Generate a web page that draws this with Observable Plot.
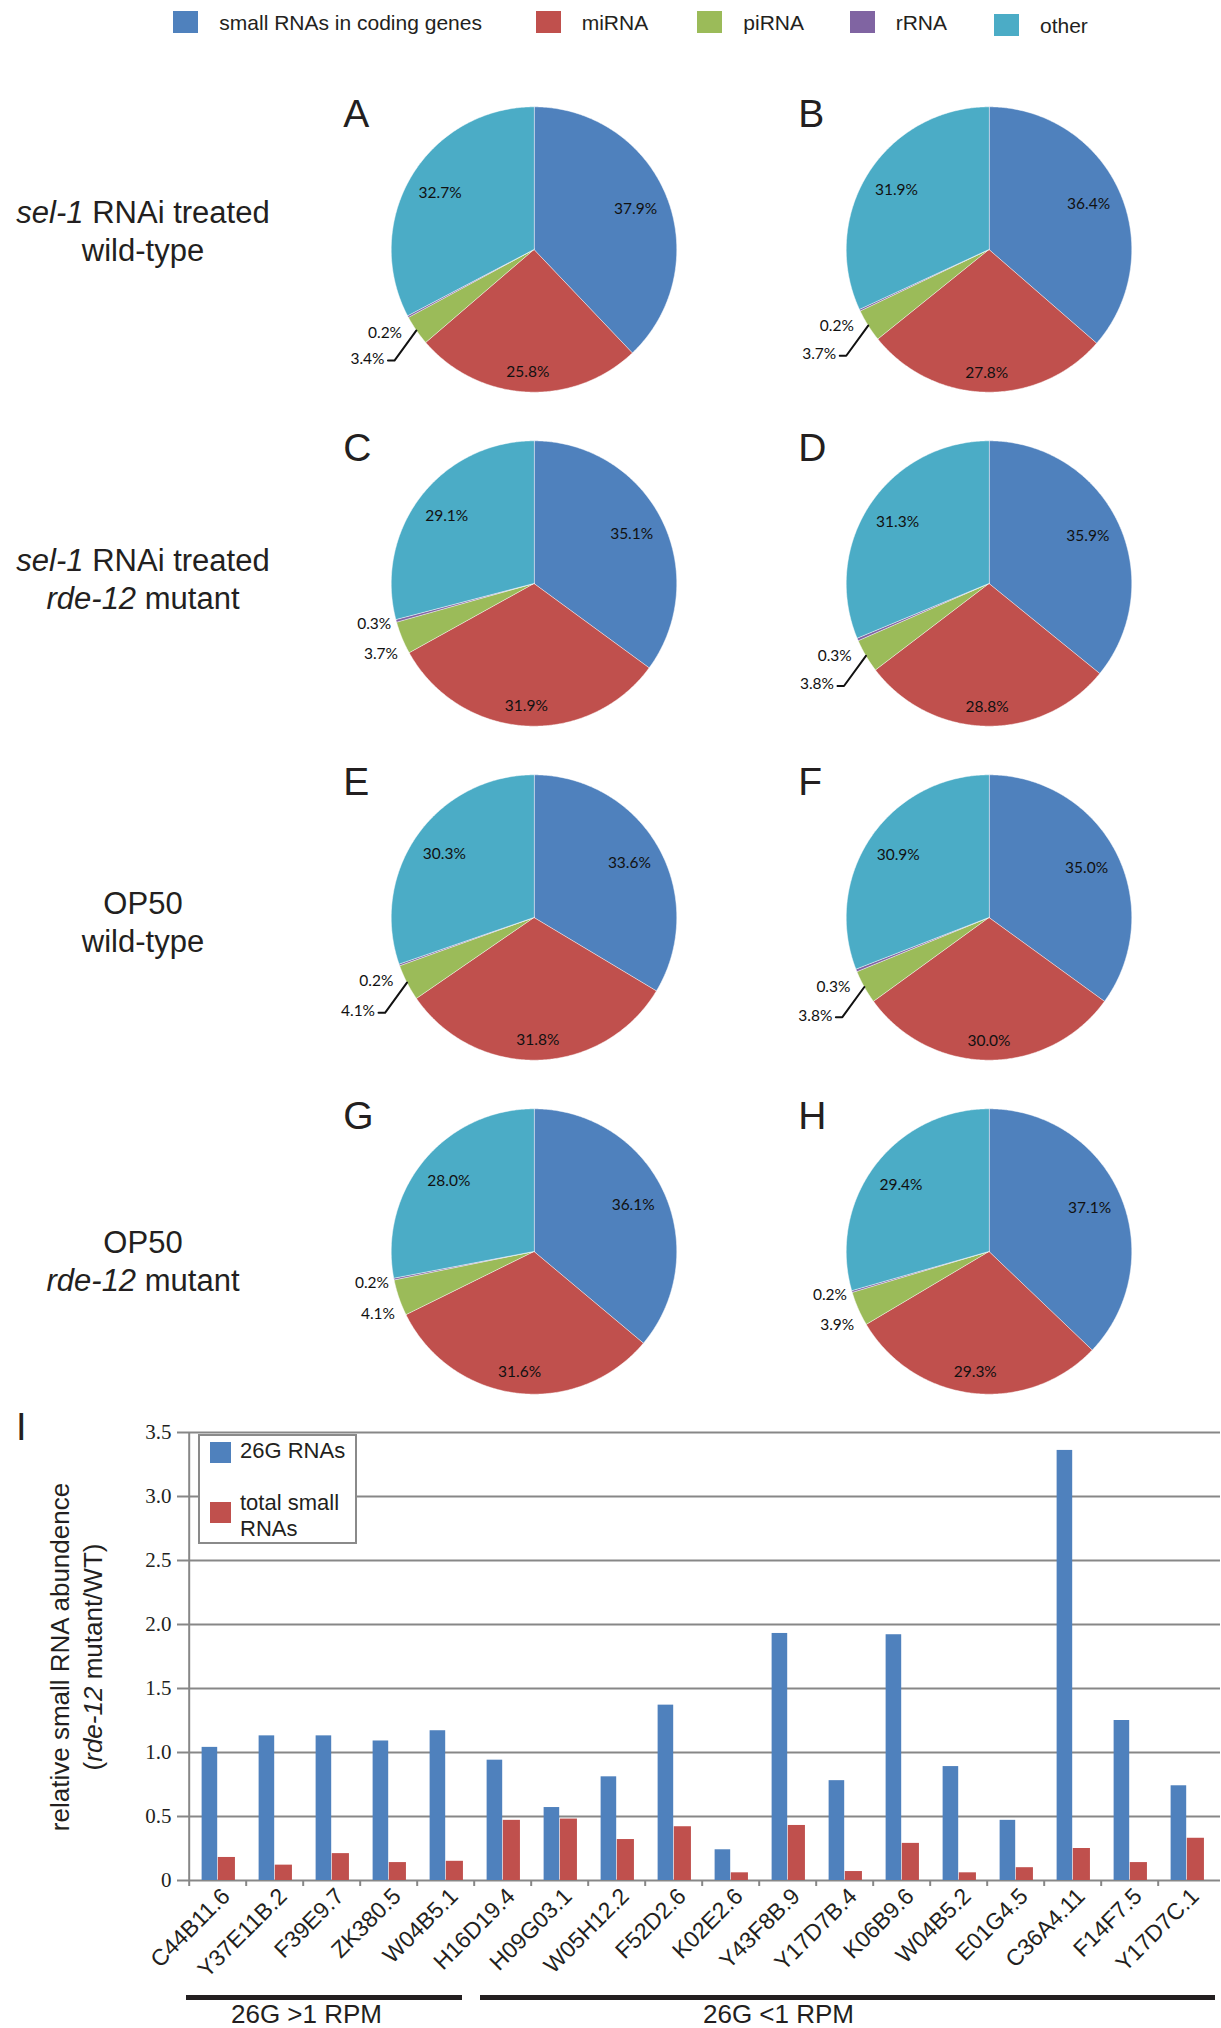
<!DOCTYPE html>
<html>
<head>
<meta charset="utf-8">
<script src="https://cdn.jsdelivr.net/npm/d3@7"></script>
<script src="https://cdn.jsdelivr.net/npm/@observablehq/plot@0.6"></script>
<style>
html, body { margin: 0; padding: 0; background: #fff; overflow: hidden; }
#fig { position: relative; width: 1221px; height: 2028px; background: #fff; overflow: hidden;
       font-family: "Liberation Sans", Arial, sans-serif; color: #231f20; }
#fig svg { position: absolute; left: 0; }
</style>
</head>
<body>
<div id="fig"></div>
<script>
// ---------------- DATA ----------------
const categories = ["small RNAs in coding genes", "miRNA", "piRNA", "rRNA", "other"];
const categoryColors = ["#4F81BD", "#C0504D", "#9BBB59", "#8064A2", "#4BACC6"];

const panels = ["A", "B", "C", "D", "E", "F", "G", "H"];
const coding = [37.9, 36.4, 35.1, 35.9, 33.6, 35.0, 36.1, 37.1];
const miRNA  = [25.8, 27.8, 31.9, 28.8, 31.8, 30.0, 31.6, 29.3];
const piRNA  = [3.4, 3.7, 3.7, 3.8, 4.1, 3.8, 4.1, 3.9];
const rRNA   = [0.2, 0.2, 0.3, 0.3, 0.2, 0.3, 0.2, 0.2];
const other  = [32.7, 31.9, 29.1, 31.3, 30.3, 30.9, 28.0, 29.4];
const leaderLine = [true, true, false, true, true, true, false, false];

const rowLine1 = ["<i>sel-1</i> RNAi treated", "<i>sel-1</i> RNAi treated", "OP50", "OP50"];
const rowLine2 = ["wild-type", "<i>rde-12</i> mutant", "wild-type", "<i>rde-12</i> mutant"];

const genes = ["C44B11.6", "Y37E11B.2", "F39E9.7", "ZK380.5", "W04B5.1", "H16D19.4", "H09G03.1",
  "W05H12.2", "F52D2.6", "K02E2.6", "Y43F8B.9", "Y17D7B.4", "K06B9.6", "W04B5.2", "E01G4.5",
  "C36A4.11", "F14F7.5", "Y17D7C.1"];
const rna26G     = [1.04, 1.13, 1.13, 1.09, 1.17, 0.94, 0.57, 0.81, 1.37, 0.24, 1.93, 0.78, 1.92, 0.89, 0.47, 3.36, 1.25, 0.74];
const totalSmall = [0.18, 0.12, 0.21, 0.14, 0.15, 0.47, 0.48, 0.32, 0.42, 0.06, 0.43, 0.07, 0.29, 0.06, 0.10, 0.25, 0.14, 0.33];
const yTicks = [0, 0.5, 1.0, 1.5, 2.0, 2.5, 3.0, 3.5];
const barSeries = ["26G RNAs", "total small RNAs"];
const barColors = ["#4F81BD", "#C0504D"];

const groupLabels = ["26G >1 RPM", "26G <1 RPM"];
const groupFrom = ["C44B11.6", "H16D19.4"];
const groupTo = ["W04B5.1", "Y17D7C.1"];

// ---------------- HELPERS ----------------
const fig = document.getElementById("fig");
function textAt(html, x, baseline, fs, opts = {}) {
  const lh = opts.lineHeight || fs;
  const el = document.createElement("div");
  el.innerHTML = html;
  const top = baseline - ((lh - 1.117 * fs) / 2 + 0.905 * fs);
  Object.assign(el.style, {position: "absolute", top: top + "px", fontSize: fs + "px",
    lineHeight: lh + "px", whiteSpace: "nowrap"});
  if (opts.center != null) {
    el.style.left = (opts.center - opts.width / 2) + "px";
    el.style.width = opts.width + "px";
    el.style.textAlign = "center";
  } else el.style.left = x + "px";
  fig.appendChild(el);
  return el;
}
function box(x, y, w, h, css) {
  const el = document.createElement("div");
  Object.assign(el.style, {position: "absolute", left: x + "px", top: y + "px", width: w + "px", height: h + "px"}, css);
  fig.appendChild(el);
  return el;
}

// ---------------- PIES ----------------
const R = 143;                 // pie radius in px
const colW = 455.7, rowH = 334.7;
const pieLeft = 533.3 - colW / 2, pieTop = 248 - rowH / 2;
const xHalf = colW / 2 / R, yHalf = rowH / 2 / R;

const slicePts = [], bigLabels = [], smallLabels = [], leaders = [], letters = [];
panels.forEach((p, i) => {
  const vals = [coding[i], miRNA[i], piRNA[i], rRNA[i], other[i]];
  const total = d3.sum(vals);
  const col = i % 2, row = Math.floor(i / 2);
  let acc = 0;
  vals.forEach((v, k) => {
    const a0 = acc / total * 2 * Math.PI; acc += v; const a1 = acc / total * 2 * Math.PI;
    const n = Math.max(2, Math.ceil((a1 - a0) / (Math.PI / 360)));
    const cat = categories[k];
    slicePts.push({col, row, cat, x: 0, y: 0});
    for (let j = 0; j <= n; j++) {
      const a = a0 + (a1 - a0) * j / n;
      slicePts.push({col, row, cat, x: Math.sin(a), y: Math.cos(a)});
    }
    const am = (a0 + a1) / 2, s = Math.sin(am), c = Math.cos(am);
    const text = v.toFixed(1) + "%";
    if (k === 0 || k === 1 || k === 4) {
      const d = 1 - (11 + Math.abs(s) * 21 + Math.abs(c) * 8) / R;
      bigLabels.push({col, row, text, x: d * s, y: d * c});
    } else {
      const lead = leaderLine[i];
      const off = k === 2 ? (lead ? [-32, 28.7] : [-4, 16]) : (lead ? [-6, 16.3] : [-5, 3.5]);
      const lx = s + off[0] / R, ly = c - off[1] / R;
      smallLabels.push({col, row, text, x: lx, y: ly});
      if (k === 2 && lead) {
        leaders.push({col, row, id: p, x: lx + 3.5 / R, y: ly - 1.5 / R},
                     {col, row, id: p, x: lx + 10 / R, y: ly - 1.5 / R},
                     {col, row, id: p, x: s, y: c});
      }
    }
  });
  letters.push({col, row, text: p, x: -191 / R, y: 123 / R});
});

const piePlot = Plot.plot({
  width: 1221,
  height: pieTop + 4 * rowH,
  marginLeft: pieLeft, marginRight: 1221 - pieLeft - 2 * colW,
  marginTop: pieTop, marginBottom: 0,
  style: {background: "transparent", color: "#231f20", fontFamily: "Liberation Sans, Arial, sans-serif"},
  fx: {domain: [0, 1], padding: 0, axis: null},
  fy: {domain: [0, 1, 2, 3], padding: 0, axis: null},
  x: {domain: [-xHalf, xHalf], axis: null},
  y: {domain: [-yHalf, yHalf], axis: null},
  color: {domain: categories, range: categoryColors},
  marks: [
    Plot.line(slicePts, {fx: "col", fy: "row", x: "x", y: "y", z: "cat", fill: "cat",
      stroke: "#ffffff", strokeWidth: 0.5, curve: "linear-closed"}),
    Plot.text(bigLabels, {fx: "col", fy: "row", x: "x", y: "y", text: "text",
      fontSize: 15.5, fontFamily: "Lato, 'Open Sans', sans-serif", fill: "#111"}),
    Plot.text(smallLabels, {fx: "col", fy: "row", x: "x", y: "y", text: "text", textAnchor: "end",
      fontSize: 15.5, fontFamily: "Lato, 'Open Sans', sans-serif", fill: "#111"}),
    Plot.line(leaders, {fx: "col", fy: "row", x: "x", y: "y", z: "id", stroke: "#111", strokeWidth: 2}),
    Plot.text(letters, {fx: "col", fy: "row", x: "x", y: "y", text: "text", textAnchor: "start",
      lineAnchor: "bottom", fontSize: 39, fill: "#231f20"})
  ]
});
piePlot.style.top = "0px";
fig.appendChild(piePlot);

// ---------------- BAR CHART ----------------
const barTop = 1400;
const bMarginLeft = 183, bMarginRight = 1, bMarginTop = 32, bMarginBottom = 148, bHeight = 628;
const bw = (1221 - bMarginLeft - bMarginRight) / genes.length;
const barRows = genes.map((g, i) => ({gene: g, v26G: rna26G[i], vTotal: totalSmall[i]}));
const groups = groupLabels.map((l, i) => ({label: l, from: groupFrom[i], to: groupTo[i]}));

const barPlot = Plot.plot({
  width: 1221, height: bHeight,
  marginLeft: bMarginLeft, marginRight: bMarginRight, marginTop: bMarginTop, marginBottom: bMarginBottom,
  style: {background: "transparent", color: "#231f20", fontFamily: "Liberation Sans, Arial, sans-serif"},
  x: {domain: genes, padding: 0, axis: null},
  y: {domain: [0, 3.5], axis: null},
  marks: [
    Plot.gridY(yTicks, {stroke: "#878787", strokeOpacity: 1, strokeWidth: 2}),
    Plot.ruleX([genes[0]], {x: d => d, dx: -bw / 2, y1: 0, y2: 3.5, stroke: "#878787", strokeWidth: 2}),
    Plot.ruleX(genes, {x: d => d, dx: -bw / 2, y1: 0, y2: 0, insetBottom: -6, stroke: "#878787", strokeWidth: 2}),
    Plot.barY(barRows, {x: "gene", y: "v26G", fill: barColors[0], insetLeft: 0.219 * bw, insetRight: 0.5 * bw}),
    Plot.barY(barRows, {x: "gene", y: "vTotal", fill: barColors[1], insetLeft: 0.5 * bw, insetRight: 0.192 * bw}),
    Plot.axisY(yTicks, {tickSize: 6, tickPadding: 6, stroke: "#878787", strokeWidth: 2, label: null,
      tickFormat: d => d === 0 ? "0" : d.toFixed(1), fontSize: 21, fontFamily: "Liberation Serif, 'Times New Roman', serif"}),
    Plot.text(barRows, {x: "gene", y: 0, text: "gene", rotate: -45, textAnchor: "end", dx: 8, dy: 12,
      fontSize: 23, fill: "#231f20"}),
    Plot.ruleY(groups.slice(0, 1), {x1: "from", x2: "to", y: 0, dy: 117, insetLeft: -3, insetRight: 12,
      stroke: "#231f20", strokeWidth: 5}),
    Plot.ruleY(groups.slice(1, 2), {x1: "from", x2: "to", y: 0, dy: 117, insetLeft: 6, insetRight: 0,
      stroke: "#231f20", strokeWidth: 5}),
    Plot.text(groups.slice(0, 1), {x: "from", y: 0, text: "label", dx: 88.5, dy: 134, fontSize: 26, fill: "#231f20"}),
    Plot.text(groups.slice(1, 2), {x: "from", y: 0, text: "label", dx: 275.5, dy: 134, fontSize: 26, fill: "#231f20"})
  ]
});
barPlot.style.top = barTop + "px";
fig.appendChild(barPlot);

// ---------------- HTML TEXT: legend, row labels, letters ----------------
const legX = [173, 536, 697, 850, 994];
const legTextX = [219.3, 581.7, 743.3, 895.7, 1040];
categories.forEach((c, k) => {
  const yOff = k === 4 ? 3 : 0;
  box(legX[k], 11 + yOff, 25, 22, {background: categoryColors[k]});
  textAt(c, legTextX[k], 30 + yOff, 21);
});

const rowBaselines = [224, 572, 915, 1254];
rowBaselines.forEach((b, r) => {
  textAt(rowLine1[r] + "<br>" + rowLine2[r], 0, b, 31, {lineHeight: 38, center: 143, width: 300});
});

// panel I letter
textAt("I", 16, 1440, 38);

// y axis title (rotated)
const yl = box(76.5 - 240, 1657 - 33, 480, 66, {fontSize: "26px", lineHeight: "33px", textAlign: "center",
  transform: "rotate(-90deg)", transformOrigin: "50% 50%", whiteSpace: "nowrap"});
yl.innerHTML = "relative small RNA abundence<br>(<i>rde-12</i> mutant/WT)";

// bar legend
box(198, 1434, 155, 106, {border: "2px solid #8a8a8a", background: "#fff"});
box(210, 1441.5, 21, 21, {background: barColors[0]});
box(210, 1502, 21, 21, {background: barColors[1]});
textAt(barSeries[0], 240, 1459, 22);
textAt("total small<br>RNAs", 240, 1510.7, 22, {lineHeight: 25.7});
</script>
</body>
</html>
